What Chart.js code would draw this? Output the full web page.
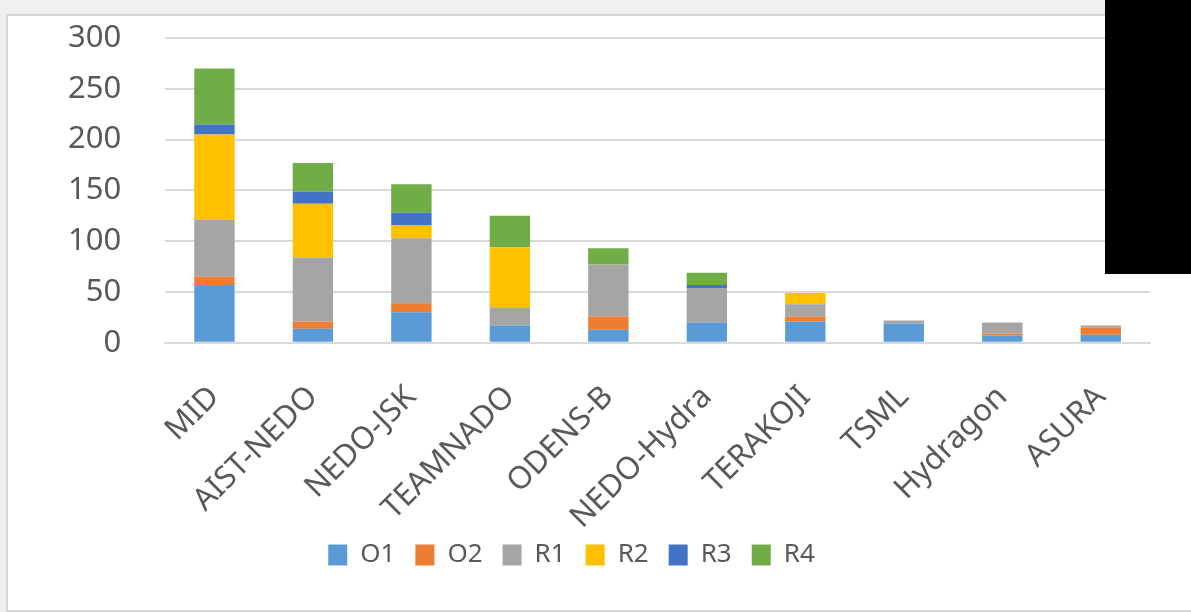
<!DOCTYPE html>
<html>
<head>
<meta charset="utf-8">
<script src="https://cdn.jsdelivr.net/npm/chart.js@4"></script>
<style>
  html, body { margin: 0; padding: 0; background: #efefef; }
  #wrap { position: relative; width: 1191px; height: 612px; overflow: hidden; }
  #panel { position: absolute; left: 6px; top: 14px; width: 1200px; height: 594px; background: #fff; border: 2px solid #d6d6d6; }
  #cover { position: absolute; left: 1105px; top: 0; width: 86px; height: 274px; background: #000; }
  canvas { position: absolute; left: 0; top: 0; }
</style>
</head>
<body>
<div id="wrap">
  <div id="panel"></div>
  <canvas id="myChart" width="1191" height="612"></canvas>
  <div id="cover"></div>
</div>
<script>
var labels = ['MID', 'AIST-NEDO', 'NEDO-JSK', 'TEAMNADO', 'ODENS-B', 'NEDO-Hydra', 'TERAKOJI', 'TSML', 'Hydragon', 'ASURA'];
var O1 = [57, 14, 30, 17, 13, 20, 21, 19, 7, 8];
var O2 = [8, 7, 9, 0, 13, 0, 5, 0, 2, 7];
var R1 = [56, 63, 64, 18, 51, 34, 12, 3, 11, 2];
var R2 = [84, 53, 13, 59, 0, 0, 11, 0, 0, 0];
var R3 = [10, 12, 12, 0, 0, 3, 0, 0, 0, 0];
var R4 = [55, 28, 28, 31, 16, 12, 0, 0, 0, 0];
var yTicks = [0, 50, 100, 150, 200, 250, 300];

var fontFamily = '"Noto Sans", sans-serif';

// nudge the legend to where it sits in the picture
const shiftLegend = {
    id: 'shiftLegend',
    afterLayout(chart) {
        chart.legend.left -= 36;
        chart.legend.right -= 36;
        chart.legend.top -= 14;
        chart.legend.bottom -= 14;
    }
};

const ctx = document.getElementById('myChart').getContext('2d');
const myChart = new Chart(ctx, {
    type: 'bar',
    data: {
        labels: labels,
        datasets: [
            { label: 'O1', data: O1, backgroundColor: '#5B9BD5' },
            { label: 'O2', data: O2, backgroundColor: '#ED7D31' },
            { label: 'R1', data: R1, backgroundColor: '#A5A5A5' },
            { label: 'R2', data: R2, backgroundColor: '#FFC000' },
            { label: 'R3', data: R3, backgroundColor: '#4472C4' },
            { label: 'R4', data: R4, backgroundColor: '#70AD47' }
        ]
    },
    options: {
        responsive: false,
        animation: false,
        devicePixelRatio: 1,
        datasets: {
            bar: { barPercentage: 0.41, categoryPercentage: 1 }
        },
        layout: { padding: { left: 65, right: 41, top: 38, bottom: 20 } },
        plugins: {
            legend: {
                position: 'bottom',
                labels: {
                    boxWidth: 19,
                    boxHeight: 21,
                    padding: 20,
                    color: '#595959',
                    font: { family: fontFamily, size: 26 }
                }
            },
            tooltip: { enabled: false }
        },
        scales: {
            x: {
                stacked: true,
                grid: { drawOnChartArea: false, tickLength: 36, tickColor: 'transparent' },
                border: { color: '#d9d9d9', width: 2 },
                ticks: {
                    minRotation: 45,
                    maxRotation: 45,
                    color: '#595959',
                    padding: 0,
                    font: { family: fontFamily, size: 31 }
                }
            },
            y: {
                stacked: true,
                min: 0,
                max: 300,
                afterBuildTicks(axis) {
                    axis.ticks = yTicks.map(v => ({ value: v }));
                },
                grid: { color: '#d9d9d9', lineWidth: 2, tickLength: 41, tickColor: 'transparent' },
                border: { display: false },
                ticks: {
                    color: '#595959',
                    padding: 3,
                    font: { family: fontFamily, size: 31 }
                }
            }
        }
    },
    plugins: [shiftLegend]
});
</script>
</body>
</html>
